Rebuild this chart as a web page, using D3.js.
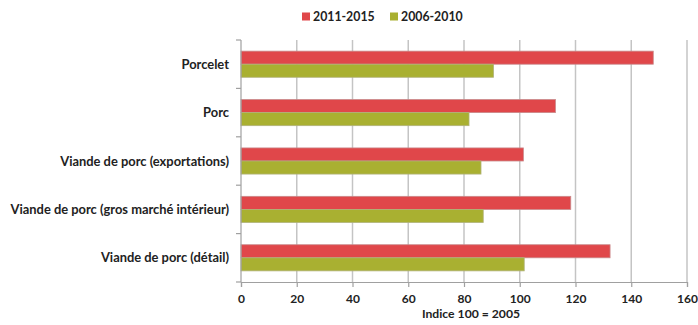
<!DOCTYPE html>
<html><head><meta charset="utf-8">
<script src="https://cdn.jsdelivr.net/npm/d3@7"></script>
<style>
body{margin:0;background:#fff;}
svg{display:block;font-family:Lato,"Liberation Sans",sans-serif;font-weight:bold;}
</style></head>
<body>
<svg id="c" width="698" height="325"></svg>
<script>
const categories = ["Porcelet","Porc","Viande de porc (exportations)","Viande de porc (gros marché intérieur)","Viande de porc (détail)"];
const seriesNames = ["2011-2015","2006-2010"];
const values2011_2015 = [147.9,112.8,101.3,118.3,132.4];
const values2006_2010 = [90.6,81.8,86.1,86.9,101.6];
const xTicks = [0,20,40,60,80,100,120,140,160];
const axisTitle = "Indice 100 = 2005";
const colors = ["#e0474a","#a9b031"];
const strokes = ["#c9898a","#b0b27a"];

(function(){
const svg = d3.select("#c");
const pl = 241, pr = 687, pt = 40, pb = 282;
const x = d3.scaleLinear().domain([0,160]).range([pl,pr]);
const y = d3.scaleBand().domain(categories).range([pt,pb]).paddingInner(0.46).paddingOuter(0.23);
const ySub = d3.scaleBand().domain(seriesNames).range([0,y.bandwidth()]);

// gridlines
svg.append("g").selectAll("line").data(xTicks.filter(d=>d>0)).join("line")
  .attr("x1",d=>x(d)).attr("x2",d=>x(d)).attr("y1",pt).attr("y2",pb)
  .attr("stroke","#c4c4c4").attr("stroke-width",1.5);

const series = [values2011_2015, values2006_2010];
series.forEach((vals,si)=>{
  svg.append("g").selectAll("rect").data(vals).join("rect")
    .attr("x",x(0))
    .attr("y",(d,i)=>y(categories[i])+ySub(seriesNames[si]))
    .attr("width",d=>x(d)-x(0))
    .attr("height",ySub.bandwidth())
    .attr("fill",colors[si])
    .attr("stroke",strokes[si]).attr("stroke-width",0.8);
});

// x axis
const xa = svg.append("g").attr("transform",`translate(0,${pb})`)
  .call(d3.axisBottom(x).tickValues(xTicks).tickSize(5).tickPadding(7));
xa.select(".domain").attr("stroke","#a0a0a0").attr("stroke-width",1.2);
xa.selectAll(".tick line").attr("stroke","#a0a0a0").attr("stroke-width",1.2);
xa.selectAll("text").attr("font-size","12px").attr("fill","#222").attr("font-family","Lato,sans-serif").attr("font-weight","bold");

// y axis
const ya = svg.append("g").attr("transform",`translate(${pl},0)`);
ya.append("line").attr("x1",0).attr("x2",0).attr("y1",pt).attr("y2",pb).attr("stroke","#a0a0a0").attr("stroke-width",1.2);
ya.selectAll(".tk").data(d3.range(categories.length+1)).join("line").attr("class","tk")
  .attr("x1",-5).attr("x2",0)
  .attr("y1",i=>pt+i*(pb-pt)/categories.length)
  .attr("y2",i=>pt+i*(pb-pt)/categories.length)
  .attr("stroke","#a0a0a0").attr("stroke-width",1.2);
svg.append("g").selectAll("text").data(categories).join("text")
  .attr("x",229).attr("y",d=>y(d)+y.bandwidth()/2).attr("dy","0.35em")
  .attr("text-anchor","end").attr("font-size","12.9px").attr("fill","#222").text(d=>d);

// axis title
svg.append("text").attr("x",471).attr("y",318).attr("text-anchor","middle")
  .attr("font-size","12.2px").attr("fill","#222").text(axisTitle);

// legend
const lg = svg.append("g");
const lx = [302,390];
seriesNames.forEach((s,i)=>{
  lg.append("rect").attr("x",lx[i]).attr("y",12.5).attr("width",8).attr("height",8).attr("fill",colors[i]);
  lg.append("text").attr("x",lx[i]+11).attr("y",16.5).attr("dy","0.35em").attr("font-size","12.3px").attr("fill","#222").text(s);
});
})();
</script>
</body></html>
